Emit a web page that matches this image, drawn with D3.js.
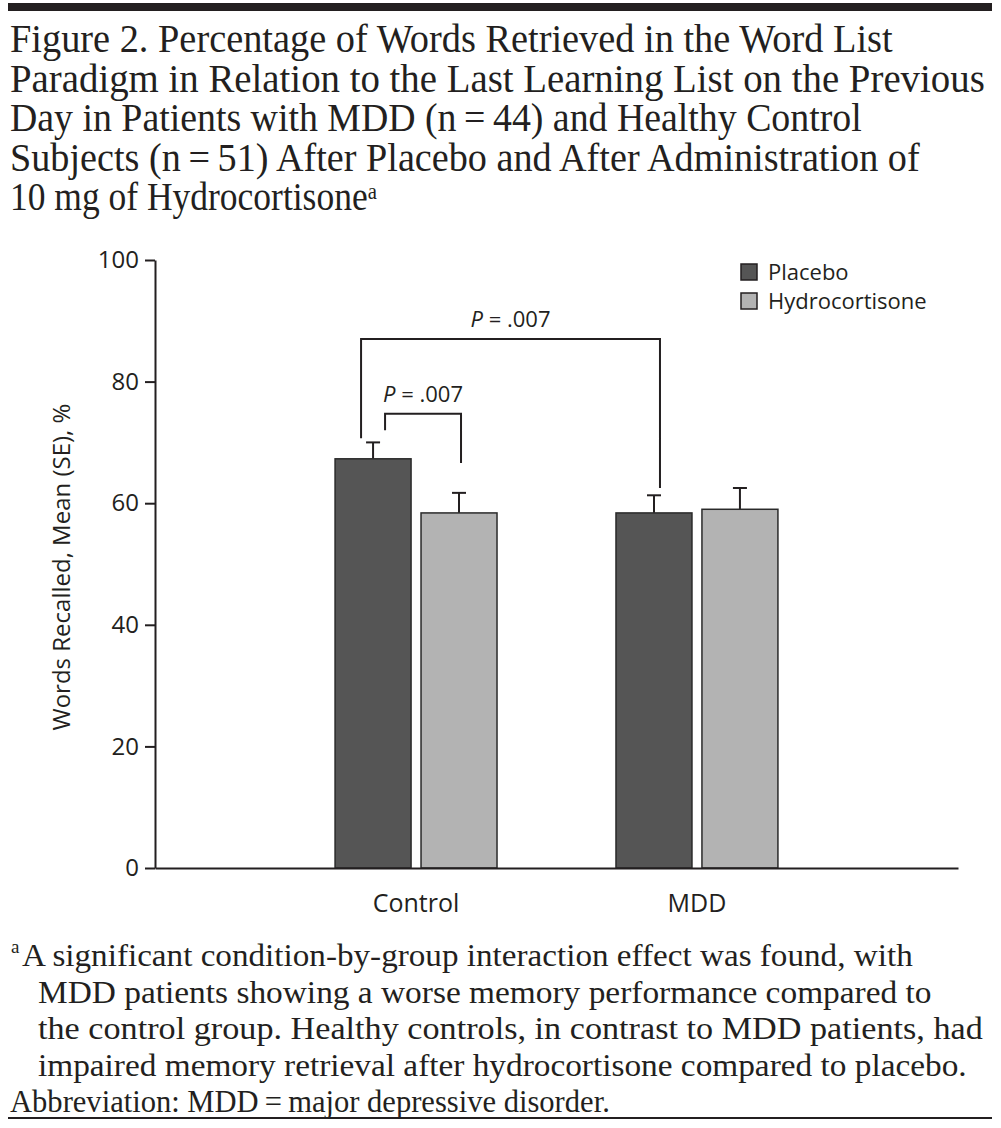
<!DOCTYPE html>
<html>
<meta charset="utf-8">
<title>Figure 2</title>
<style>
	body {
		margin: 0;
		background: #fff;
	}

	.serif {
		font-family: "Liberation Serif", serif;
		fill: #231f20;
	}

	.sans {
		font-family: "Open Sans", "Noto Sans", sans-serif;
		fill: #231f20;
	}

	.axis path,
	.axis line {
		stroke: #231f20;
		stroke-width: 2px;
	}
</style>

<body>
	<div id="chart"></div>

	<script src="https://cdnjs.cloudflare.com/ajax/libs/d3/7.8.5/d3.min.js"></script>

	<script>
		var groups = ["Control", "MDD"];
		var conditions = ["Placebo", "Hydrocortisone"];
		var placeboMean = [67.3, 58.4];
		var placeboSE = [2.7, 2.9];
		var hydroMean = [58.4, 59.0];
		var hydroSE = [3.3, 3.5];
		var yTicks = [0, 20, 40, 60, 80, 100];

		// significance brackets: [group, condition] ends, heights in % units
		var brackets = [
			{ label: ".007", from: [0, 0], to: [0, 1], top: 74.7, fromEnd: 72.0, toEnd: 66.6, fromOffset: 12, toOffset: 2 },
			{ label: ".007", from: [0, 0], to: [1, 0], top: 87.0, fromEnd: 70.7, toEnd: 62.5, fromOffset: -12, toOffset: 6 }
		];

		var titleLines = [
			"Figure 2. Percentage of Words Retrieved in the Word List",
			"Paradigm in Relation to the Last Learning List on the Previous",
			"Day in Patients with MDD (n\u2009=\u200944) and Healthy Control",
			"Subjects (n\u2009=\u200951) After Placebo and After Administration of",
			"10 mg of Hydrocortisone"
		];
		var titleWidths = [883, 975, 852, 910, 367];

		var noteLines = [
			"A significant condition-by-group interaction effect was found, with",
			"MDD patients showing a worse memory performance compared to",
			"the control group. Healthy controls, in contrast to MDD patients, had",
			"impaired memory retrieval after hydrocortisone compared to placebo.",
			"Abbreviation: MDD\u2009=\u2009major depressive disorder."
		];
		var noteWidths = [891, 894, 945, 929, 600];

		var width = 1001,
			height = 1128;

		var svg = d3.select("#chart").append("svg")
			.attr("width", width)
			.attr("height", height);

		var colors = d3.scaleOrdinal()
			.domain(conditions)
			.range(["#555555", "#b3b3b3"]);

		/* rules */
		svg.append("rect")
			.attr("x", 8).attr("y", 3)
			.attr("width", 984).attr("height", 8)
			.attr("fill", "#231f20");

		svg.append("rect")
			.attr("x", 8).attr("y", 1117)
			.attr("width", 984).attr("height", 2)
			.attr("fill", "#231f20");

		/* title */
		var title = svg.append("g").attr("class", "serif");

		var titleText = title.selectAll("text")
			.data(titleLines)
			.enter().append("text")
			.style("font-size", "41px")
			.text(function (d) { return d; });

		titleText.filter(function (d, i) { return i === 4; })
			.append("tspan")
			.attr("dy", "-0.45em")
			.style("font-size", "24px")
			.text("a");

		titleText.attr("transform", function (d, i) {
			var s = titleWidths[i] / this.getComputedTextLength();
			return "translate(10," + (52 + i * 39.5) + ") scale(" + s + ",1)";
		});

		/* chart */
		var x = d3.scaleBand()
			.domain(groups)
			.range([155, 958])
			.paddingInner(0.4235)
			.paddingOuter(0.641);

		var x1 = d3.scaleBand()
			.domain(conditions)
			.range([0, x.bandwidth()])
			.paddingInner(0.116);

		var y = d3.scaleLinear()
			.domain([0, 100])
			.range([868, 260]);

		function barX(g, c) {
			return x(groups[g]) + x1(conditions[c]);
		}

		function barMid(g, c) {
			return barX(g, c) + x1.bandwidth() / 2;
		}

		var bars = [];
		groups.forEach(function (g, i) {
			bars.push({ group: g, cond: "Placebo", gi: i, ci: 0, mean: placeboMean[i], se: placeboSE[i] });
			bars.push({ group: g, cond: "Hydrocortisone", gi: i, ci: 1, mean: hydroMean[i], se: hydroSE[i] });
		});

		var chart = svg.append("g");

		// error bars (upper only)
		var err = chart.selectAll(".err")
			.data(bars)
			.enter().append("g")
			.attr("class", "err")
			.attr("stroke", "#231f20")
			.attr("stroke-width", 2);

		err.append("line")
			.attr("x1", function (d) { return barMid(d.gi, d.ci); })
			.attr("x2", function (d) { return barMid(d.gi, d.ci); })
			.attr("y1", function (d) { return y(d.mean); })
			.attr("y2", function (d) { return y(d.mean + d.se); });

		err.append("line")
			.attr("x1", function (d) { return barMid(d.gi, d.ci) - 7; })
			.attr("x2", function (d) { return barMid(d.gi, d.ci) + 7; })
			.attr("y1", function (d) { return y(d.mean + d.se); })
			.attr("y2", function (d) { return y(d.mean + d.se); });

		chart.selectAll(".bar")
			.data(bars)
			.enter().append("rect")
			.attr("class", "bar")
			.attr("x", function (d) { return barX(d.gi, d.ci); })
			.attr("y", function (d) { return y(d.mean); })
			.attr("width", x1.bandwidth())
			.attr("height", function (d) { return y(0) - y(d.mean); })
			.attr("fill", function (d) { return colors(d.cond); })
			.attr("stroke", "#2a2a2a")
			.attr("stroke-width", 1.5);

		// brackets
		var br = chart.selectAll(".bracket")
			.data(brackets)
			.enter().append("g")
			.attr("class", "bracket");

		function legA(d) { return barMid(d.from[0], d.from[1]) + d.fromOffset; }
		function legB(d) { return barMid(d.to[0], d.to[1]) + d.toOffset; }

		br.append("path")
			.attr("fill", "none")
			.attr("stroke", "#231f20")
			.attr("stroke-width", 2)
			.attr("d", function (d) {
				return "M" + legA(d) + "," + y(d.fromEnd) + "V" + y(d.top) + "H" + legB(d) + "V" + y(d.toEnd);
			});

		var brText = br.append("text")
			.attr("class", "sans")
			.attr("text-anchor", "middle")
			.style("font-size", "22px")
			.attr("x", function (d) { return (legA(d) + legB(d)) / 2; })
			.attr("y", function (d) { return y(d.top) - 12; });

		brText.append("tspan").style("font-style", "italic").text("P");
		brText.append("tspan").text(function (d) { return " = " + d.label; });

		// axes
		var yAxis = svg.append("g")
			.attr("class", "axis")
			.attr("transform", "translate(155,0)")
			.call(d3.axisLeft(y).tickValues(yTicks).tickSize(10).tickSizeOuter(0).tickPadding(6));

		yAxis.selectAll("text")
			.attr("class", "sans")
			.attr("fill", null)
			.style("font-size", "24px")
			.style("font-family", "'Open Sans', sans-serif");

		var xAxis = svg.append("g")
			.attr("class", "axis")
			.attr("transform", "translate(0," + y(0) + ")")
			.call(d3.axisBottom(x).tickSize(0).tickSizeOuter(0).tickPadding(26));

		xAxis.selectAll("text")
			.attr("fill", null)
			.attr("class", "sans")
			.style("font-size", "25px")
			.style("font-family", "'Open Sans', sans-serif");

		svg.append("text")
			.attr("class", "sans")
			.attr("text-anchor", "middle")
			.attr("transform", "translate(70," + y(49.5) + ") rotate(-90)")
			.style("font-size", "24px")
			.text("Words Recalled, Mean (SE), %");

		// legend
		var legend = svg.selectAll(".legend")
			.data(conditions)
			.enter().append("g")
			.attr("class", "legend")
			.attr("transform", function (d, i) { return "translate(741," + (264 + i * 29) + ")"; });

		legend.append("rect")
			.attr("width", 16)
			.attr("height", 16)
			.attr("fill", function (d) { return colors(d); })
			.attr("stroke", "#231f20")
			.attr("stroke-width", 1.5);

		legend.append("text")
			.attr("class", "sans")
			.attr("x", 27)
			.attr("y", 16)
			.style("font-size", "22px")
			.text(function (d) { return d; });

		/* footnote */
		var note = svg.append("g").attr("class", "serif");

		var noteText = note.selectAll("text")
			.data(noteLines)
			.enter().append("text")
			.style("font-size", "32px")
			.text(function (d) { return d; });

		noteText.attr("transform", function (d, i) {
			var left = i === 0 ? 22 : (i === 4 ? 10 : 38);
			var s = noteWidths[i] / this.getComputedTextLength();
			return "translate(" + left + "," + (966 + i * 36.5) + ") scale(" + s + ",1)";
		});

		note.append("text")
			.attr("x", 11)
			.attr("y", 953)
			.style("font-size", "19px")
			.text("a");
	</script>
</body>

</html>
